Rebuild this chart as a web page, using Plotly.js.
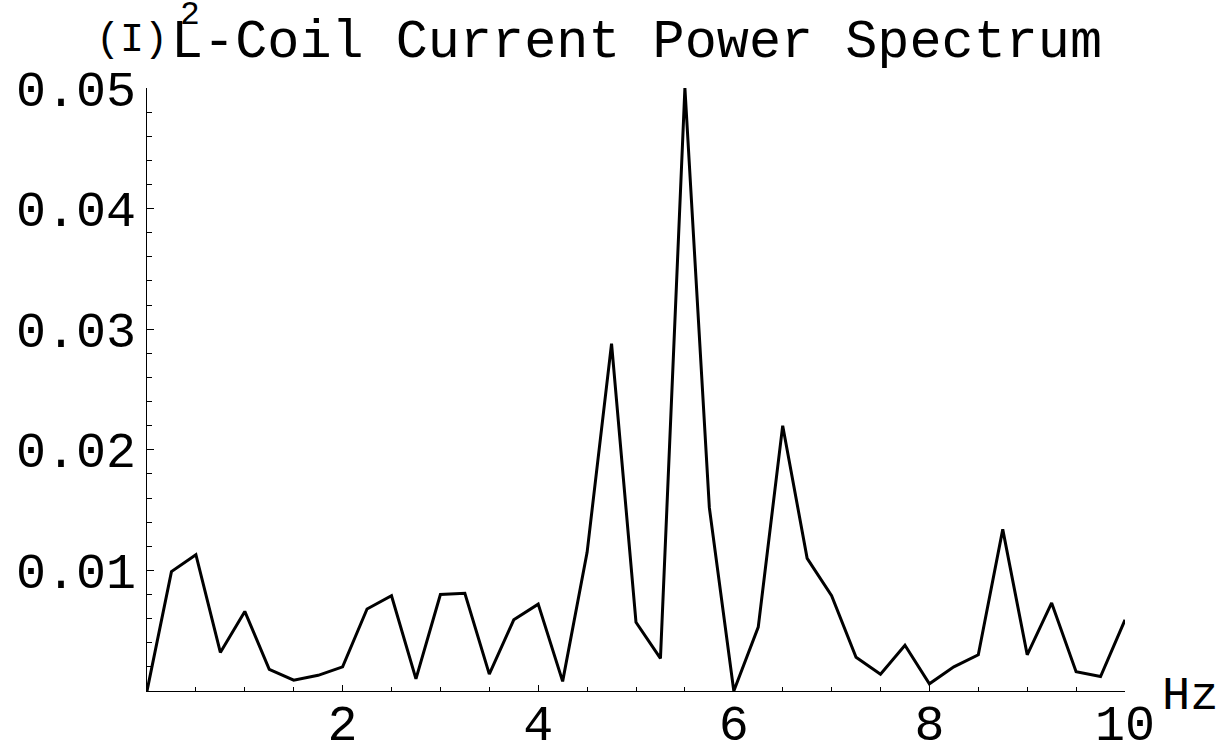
<!DOCTYPE html>
<html>
<head>
<meta charset="utf-8">
<script src="https://cdn.plot.ly/plotly-3.0.1.min.js"></script>
<style>html,body{margin:0;padding:0;background:#fff;}#chart{width:1226px;height:742px;}</style>
</head>
<body>
<div id="chart"></div>
<script>
// Frequencies (Hz)
const freqHz = [0, 0.25, 0.5, 0.75, 1, 1.25, 1.5, 1.75, 2, 2.25, 2.5, 2.75, 3, 3.25, 3.5, 3.75, 4, 4.25, 4.5, 4.75, 5, 5.25, 5.5, 5.75, 6, 6.25, 6.5, 6.75, 7, 7.25, 7.5, 7.75, 8, 8.25, 8.5, 8.75, 9, 9.25, 9.5, 9.75, 10];
// Power spectrum values (I)^2
const power = [0, 0.0099, 0.0113, 0.0032, 0.0066, 0.0018, 0.0009, 0.0013, 0.0020, 0.0068, 0.0079, 0.0010, 0.0080, 0.0081, 0.0014, 0.0059, 0.0072, 0.0008, 0.0115, 0.0288, 0.0057, 0.0027, 0.0500, 0.0152, 0.0000, 0.0053, 0.0220, 0.0110, 0.0079, 0.0028, 0.0014, 0.0038, 0.0006, 0.0020, 0.0030, 0.0134, 0.0030, 0.0073, 0.0016, 0.0012, 0.0059];
// Tick labels
const xTickVals = [2, 4, 6, 8, 10];
const xTickText = ["2", "4", "6", "8", "10"];
const yTickVals = [0.01, 0.02, 0.03, 0.04, 0.05];
const yTickText = ["0.01", "0.02", "0.03", "0.04", "0.05"];

const FONT = "Liberation Mono, Courier New, Courier, monospace";

const trace = {
  x: freqHz, y: power, type: 'scatter', mode: 'lines',
  line: {color: '#000', width: 3},
  cliponaxis: false, hoverinfo: 'skip'
};

const layout = {
  width: 1226, height: 742,
  margin: {l: 147, r: 101, t: 88, b: 51, pad: 0},
  paper_bgcolor: '#fff', plot_bgcolor: '#fff',
  showlegend: false,
  xaxis: {
    range: [0, 10], showgrid: false, zeroline: false,
    showline: true, linecolor: '#000', linewidth: 1,
    ticks: 'inside', ticklen: 6, tickwidth: 1, tickcolor: '#000',
    tickmode: 'array', tickvals: xTickVals, ticktext: xTickText,
    tickfont: {family: FONT, size: 50, color: '#000'},
    ticklabelstandoff: -12,
    minor: {tickmode: 'linear', tick0: 0, dtick: 0.5, ticks: 'inside', ticklen: 4, tickwidth: 1, tickcolor: '#000'}
  },
  yaxis: {
    range: [0, 0.05], showgrid: false, zeroline: false,
    showline: true, linecolor: '#000', linewidth: 1,
    ticks: 'inside', ticklen: 7, tickwidth: 1, tickcolor: '#000',
    tickmode: 'array', tickvals: yTickVals, ticktext: yTickText,
    tickfont: {family: FONT, size: 50, color: '#000'},
    ticklabelstandoff: 0,
    minor: {tickmode: 'linear', tick0: 0, dtick: 0.002, ticks: 'inside', ticklen: 5, tickwidth: 1, tickcolor: '#000'}
  },
  annotations: [
    {text: 'L-Coil Current Power Spectrum', xref: 'paper', yref: 'paper',
     x: 0.5, y: (690.7 - 42) / 603, xanchor: 'center', yanchor: 'middle', showarrow: false,
     font: {family: FONT, size: 53.5, color: '#000'}},
    {text: '(I)', xref: 'paper', yref: 'paper',
     x: (132 - 147) / 978, y: (690.7 - 40) / 603, xanchor: 'center', yanchor: 'middle', showarrow: false,
     font: {family: FONT, size: 40, color: '#000'}},
    {text: '2', xref: 'paper', yref: 'paper',
     x: (190 - 147) / 978, y: (690.7 - 15) / 603, xanchor: 'center', yanchor: 'middle', showarrow: false,
     font: {family: FONT, size: 33, color: '#000'}},
    {text: 'Hz', xref: 'paper', yref: 'paper',
     x: (1190 - 147) / 978, y: (690.7 - 696) / 603, xanchor: 'center', yanchor: 'middle', showarrow: false,
     font: {family: FONT, size: 47, color: '#000'}}
  ]
};

Plotly.newPlot('chart', [trace], layout, {staticPlot: true, displayModeBar: false});
</script>
</body>
</html>
